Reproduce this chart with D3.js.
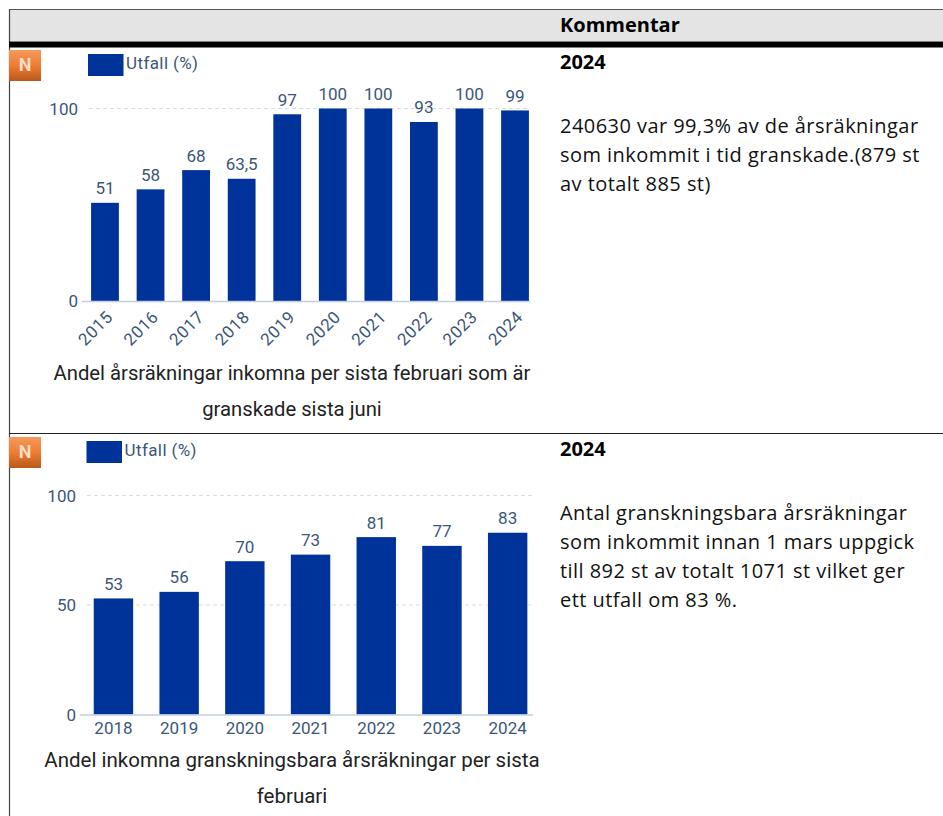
<!DOCTYPE html>
<html>
<head>
<meta charset="utf-8">
<script src="https://cdn.jsdelivr.net/npm/d3@7"></script>
<style>
html, body { margin: 0; padding: 0; background: #fff; overflow: hidden; }
.tick-label { font-family: Roboto, sans-serif; font-size: 17px; fill: #3b5678; }
.legend-label { font-family: Roboto, sans-serif; font-size: 17px; fill: #3b5678; letter-spacing: 0.4px; }
.bar-label { font-family: Roboto, sans-serif; font-size: 17px; fill: #3b5678; text-anchor: middle; }
.chart-title { font-family: Roboto, sans-serif; fill: #222; text-anchor: middle; }
.comment { font-family: "Open Sans", sans-serif; font-size: 20px; fill: #111; letter-spacing: 0.45px; }
.comment-bold { font-family: "Open Sans", sans-serif; font-size: 20px; font-weight: 700; fill: #000; }
</style>
</head>
<body>
<div id="chart"></div>
<script>
var years1 = ["2015","2016","2017","2018","2019","2020","2021","2022","2023","2024"];
var values1 = [51,58,68,63.5,97,100,100,93,100,99];
var ticks1 = [0,100];
var title1 = ["Andel årsräkningar inkomna per sista februari som är","granskade sista juni"];
var comment1 = ["240630 var 99,3% av de årsräkningar","som inkommit i tid granskade.(879 st","av totalt 885 st)"];

var years2 = ["2018","2019","2020","2021","2022","2023","2024"];
var values2 = [53,56,70,73,81,77,83];
var ticks2 = [0,50,100];
var title2 = ["Andel inkomna granskningsbara årsräkningar per sista","februari"];
var comment2 = ["Antal granskningsbara årsräkningar","som inkommit innan 1 mars uppgick","till 892 st av totalt 1071 st vilket ger","ett utfall om 83 %."];

var barColor = "#003399";

var svg = d3.select("#chart").append("svg")
	.attr("width",943)
	.attr("height",816);

var defs = svg.append("defs");
var grad = defs.append("linearGradient").attr("id","badge").attr("x1",0).attr("y1",0).attr("x2",0).attr("y2",1);
grad.append("stop").attr("offset","0%").attr("stop-color","#f59a5c");
grad.append("stop").attr("offset","50%").attr("stop-color","#ee7d32");
grad.append("stop").attr("offset","100%").attr("stop-color","#b8591c");

/* table frame */
svg.append("rect").attr("x",10).attr("y",10).attr("width",933).attr("height",31).style("fill","#e4e4e4");
svg.append("line").attr("x1",9).attr("x2",943).attr("y1",9.5).attr("y2",9.5).style("stroke","#555");
svg.append("line").attr("x1",9.5).attr("x2",9.5).attr("y1",9).attr("y2",816).style("stroke","#444").style("stroke-width",1.2);
svg.append("rect").attr("x",9).attr("y",41.5).attr("width",934).attr("height",6).style("fill","#000");
svg.append("line").attr("x1",9).attr("x2",943).attr("y1",433.5).attr("y2",433.5).style("stroke","#222");

svg.append("text").attr("class","comment-bold").attr("x",560).attr("y",32).text("Kommentar");

function drawBadge(y){
	svg.append("rect").attr("x",9).attr("y",y).attr("width",32).attr("height",31).style("fill","url(#badge)");
	svg.append("text").attr("x",25).attr("y",y+21).attr("text-anchor","middle")
		.style("font-family","Roboto, sans-serif").style("font-weight",700).style("font-size","18px").style("fill","#fbdcc6")
		.text("N");
}

function drawChart(cfg){
	var x = d3.scaleBand().domain(cfg.years).range(cfg.xRange).paddingInner(cfg.pad).paddingOuter(cfg.pad/2);
	var y = d3.scaleLinear().domain([0,100]).range(cfg.yRange);
	var g = svg.append("g");

	// grid lines, no line at zero
	g.selectAll(".grid").data(cfg.ticks.filter(function(d){ return d>0; })).enter()
		.append("line").attr("class","grid")
		.attr("x1",cfg.gridStart).attr("x2",cfg.axisEnd)
		.attr("y1",function(d){ return y(d); }).attr("y2",function(d){ return y(d); })
		.style("stroke","#d5dce4").style("stroke-dasharray","4,3");

	g.selectAll(".bar").data(cfg.values).enter()
		.append("rect").attr("class","bar")
		.attr("x",function(d,i){ return x(cfg.years[i]); })
		.attr("y",function(d){ return y(d); })
		.attr("width",x.bandwidth())
		.attr("height",function(d){ return y(0)-y(d); })
		.style("fill",barColor);

	g.selectAll(".bar-label").data(cfg.values).enter()
		.append("text").attr("class","bar-label")
		.attr("x",function(d,i){ return x(cfg.years[i])+x.bandwidth()/2; })
		.attr("y",function(d){ return y(d)-8.5; })
		.text(function(d){ return String(d).replace(".",","); });

	// axis line
	g.append("line").attr("x1",cfg.axisStart).attr("x2",cfg.axisEnd)
		.attr("y1",y(0)+0.5).attr("y2",y(0)+0.5)
		.style("stroke","#c0cfdf").style("stroke-width",1.5);

	g.selectAll(".y-label").data(cfg.ticks).enter()
		.append("text").attr("class","tick-label")
		.attr("x",cfg.axisStart-4).attr("y",function(d){ return y(d)+6; })
		.attr("text-anchor","end")
		.text(function(d){ return d; });

	g.selectAll(".x-label").data(cfg.years).enter()
		.append("text").attr("class","tick-label")
		.attr("text-anchor",cfg.rotate ? "end" : "middle")
		.style("letter-spacing",cfg.rotate ? "0.6px" : "0")
		.attr("transform",function(d){
			var cx = x(d)+x.bandwidth()/2;
			return cfg.rotate ? "translate("+(cx+9)+","+(y(0)+17)+") rotate(-45)" : "translate("+cx+","+(y(0)+19)+")";
		})
		.text(function(d){ return d; });

	// legend
	g.append("rect").attr("x",cfg.legendX).attr("y",cfg.legendY).attr("width",35.5).attr("height",22).style("fill",barColor);
	g.append("text").attr("class","legend-label").attr("x",cfg.legendX+38).attr("y",cfg.legendY+15).text("Utfall (%)");

	g.selectAll(".chart-title").data(cfg.title).enter()
		.append("text").attr("class","chart-title")
		.attr("x",cfg.titleX)
		.attr("y",function(d,i){ return cfg.titleY+i*cfg.titleGap; })
		.style("font-size",cfg.titleSize+"px")
		.text(function(d){ return d; });
}

drawBadge(50);
drawChart({years:years1,values:values1,ticks:ticks1,title:title1,
	xRange:[82.2,537.8],yRange:[301,108.5],pad:0.39,rotate:true,
	gridStart:89,axisStart:82,axisEnd:530,legendX:88,legendY:54,
	titleX:292,titleY:380,titleGap:36,titleSize:20.25});

drawBadge(437);
drawChart({years:years2,values:values2,ticks:ticks2,title:title2,
	xRange:[80.6,540.5],yRange:[714.5,495.5],pad:0.4,rotate:false,
	gridStart:87,axisStart:80,axisEnd:533,legendX:86.5,legendY:441,
	titleX:292,titleY:767,titleGap:36,titleSize:20.5});

function drawComment(lines,yHead,yStart){
	svg.append("text").attr("class","comment-bold").attr("x",560).attr("y",yHead).text("2024");
	svg.selectAll(null).data(lines).enter()
		.append("text").attr("class","comment")
		.attr("x",560).attr("y",function(d,i){ return yStart+i*29; })
		.text(function(d){ return d; });
}
drawComment(comment1,69,133);
drawComment(comment2,456,520);
</script>
</body>
</html>
